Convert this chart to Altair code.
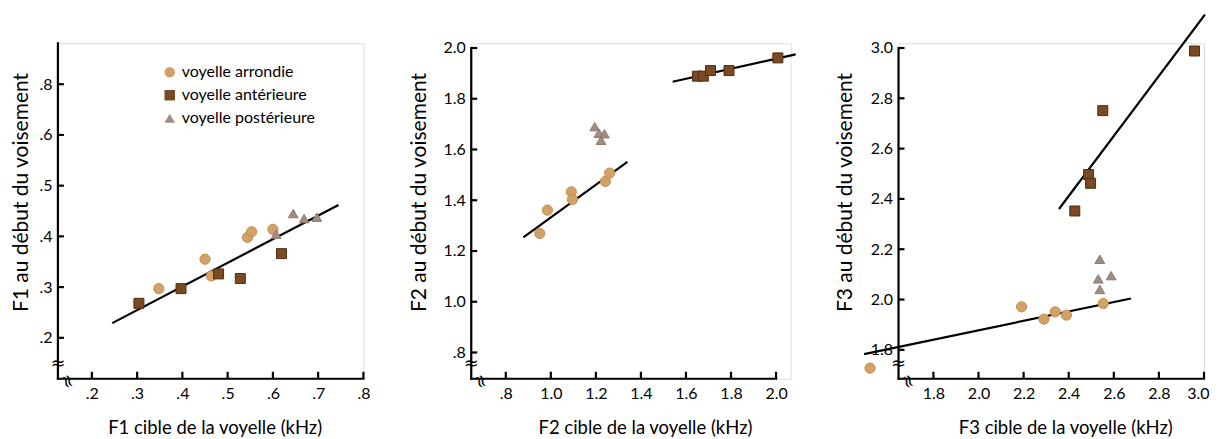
import json
import altair as alt
import pandas as pd

FONT = "Lato"
CATS = ["voyelle arrondie", "voyelle antérieure", "voyelle postérieure"]
FILLS = ["#D3A066", "#7A4A22", "#A08C82"]
STROKES = ["#C4904F", "#4E2E14", "#8C786E"]
SHAPES = ["circle", "square", "triangle-up"]
SIZES = [105, 95, 150]

# ---------------- Panel 1 (F1) ----------------
p1_round_x = [0.348, 0.450, 0.464, 0.544, 0.553, 0.600]
p1_round_y = [0.297, 0.355, 0.322, 0.398, 0.409, 0.414]
p1_front_x = [0.304, 0.397, 0.480, 0.528, 0.619]
p1_front_y = [0.268, 0.297, 0.326, 0.317, 0.366]
p1_back_x = [0.607, 0.645, 0.669, 0.697]
p1_back_y = [0.404, 0.445, 0.435, 0.438]
p1_fit_x = [0.245, 0.745]
p1_fit_y = [0.229, 0.462]
p1_xticks = [0.2, 0.3, 0.4, 0.5, 0.6, 0.7, 0.8]
p1_xlabels = [".2", ".3", ".4", ".5", ".6", ".7", ".8"]
p1_yticks = [0.2, 0.3, 0.4, 0.5, 0.6, 0.7]
p1_ylabels = [".2", ".3", ".4", ".5", ".6", ".8"]

# ---------------- Panel 2 (F2) ----------------
p2_round_x = [0.951, 0.985, 1.091, 1.096, 1.242, 1.261]
p2_round_y = [1.269, 1.361, 1.433, 1.403, 1.474, 1.507]
p2_front_x = [1.651, 1.677, 1.709, 1.791, 2.008]
p2_front_y = [1.889, 1.889, 1.911, 1.911, 1.961]
p2_back_x = [1.195, 1.214, 1.238, 1.223]
p2_back_y = [1.690, 1.664, 1.662, 1.636]
p2_fit_round_x = [0.878, 1.340]
p2_fit_round_y = [1.254, 1.551]
p2_fit_front_x = [1.541, 2.087]
p2_fit_front_y = [1.867, 1.975]
p2_xticks = [0.8, 1.0, 1.2, 1.4, 1.6, 1.8, 2.0]
p2_xlabels = [".8", "1.0", "1.2", "1.4", "1.6", "1.8", "2.0"]
p2_yticks = [0.8, 1.0, 1.2, 1.4, 1.6, 1.8, 2.0]
p2_ylabels = [".8", "1.0", "1.2", "1.4", "1.6", "1.8", "2.0"]

# ---------------- Panel 3 (F3) ----------------
p3_round_x = [1.519, 2.191, 2.290, 2.340, 2.390, 2.553]
p3_round_y = [1.727, 1.971, 1.922, 1.951, 1.938, 1.984]
p3_front_x = [2.427, 2.488, 2.497, 2.551, 2.958]
p3_front_y = [2.352, 2.497, 2.462, 2.751, 2.988]
p3_back_x = [2.538, 2.531, 2.588, 2.538]
p3_back_y = [2.160, 2.082, 2.095, 2.040]
p3_fit_round_x = [1.493, 2.676]
p3_fit_round_y = [1.783, 2.004]
p3_fit_front_x = [2.357, 3.004]
p3_fit_front_y = [2.360, 3.133]
p3_xticks = [1.8, 2.0, 2.2, 2.4, 2.6, 2.8, 3.0]
p3_xlabels = ["1.8", "2.0", "2.2", "2.4", "2.6", "2.8", "3.0"]
p3_yticks = [1.8, 2.0, 2.2, 2.4, 2.6, 2.8, 3.0]
p3_ylabels = ["1.8", "2.0", "2.2", "2.4", "2.6", "2.8", "3.0"]

BREAK = ["≈"]
H = 336


def label_expr(vals, labs):
    return f"{json.dumps(labs)}[indexof({json.dumps(vals)}, datum.value)]"


def panel(rx, ry, fx, fy, bx, by, fits, xdom, ydom, width, x_end, y_end,
          xticks, xlabels, yticks, ylabels, xtitle, ytitle, ytitle_x, xtitle_x,
          show_legend, flush_last=False):
    pts = pd.DataFrame({
        "x": rx + fx + bx,
        "y": ry + fy + by,
        "cat": [CATS[0]] * len(rx) + [CATS[1]] * len(fx) + [CATS[2]] * len(bx),
    })
    xs = alt.Scale(domain=xdom, nice=False, zero=False)
    ys = alt.Scale(domain=ydom, nice=False, zero=False)
    xaxis_kw = dict(values=xticks, labelExpr=label_expr(xticks, xlabels), domain=False,
                    ticks=False, tickSize=0, grid=False, labelFont=FONT, labelFontSize=16,
                    labelColor="black", labelPadding=7, labelOverlap=False,
                    title=xtitle, titleFont=FONT, titleFontSize=18.5, titleFontWeight="normal",
                    titleColor="black", titleX=xtitle_x, titleY=40, titleAlign="center")
    if flush_last:
        xaxis_kw.update(labelFlush=True, labelFlushOffset=5)
    else:
        xaxis_kw.update(labelFlush=False)
    xaxis = alt.Axis(**xaxis_kw)
    yaxis = alt.Axis(values=yticks, labelExpr=label_expr(yticks, ylabels), domain=False,
                     ticks=False, tickSize=0, grid=False, labelFont=FONT, labelFontSize=16,
                     labelColor="black", labelPadding=6, labelFlush=False, labelOverlap=False,
                     title=ytitle, titleFont=FONT, titleFontSize=21, titleFontWeight="normal",
                     titleColor="black", titleX=ytitle_x, titleY=149, titleAlign="center",
                     titleBaseline="alphabetic", titleAngle=270)
    if show_legend:
        leg = alt.Legend(title=None, orient="none", legendX=104, legendY=21, labelFont=FONT,
                         labelFontSize=16, labelColor="black", symbolSize=110, rowPadding=7,
                         labelOffset=4, padding=0, symbolStrokeWidth=1)
    else:
        leg = None
    X = alt.X("x:Q", scale=xs, axis=xaxis)
    Y = alt.Y("y:Q", scale=ys, axis=yaxis)
    layers = []
    fit_rows = []
    for gi, (lx, ly) in enumerate(fits):
        for a, b in zip(lx, ly):
            fit_rows.append({"x": a, "y": b, "g": gi})
    layers.append(
        alt.Chart(pd.DataFrame(fit_rows)).mark_line(color="black", strokeWidth=2.2, clip=False)
        .encode(x=X, y=Y, detail="g:N")
    )
    layers.append(
        alt.Chart(pts).mark_point(filled=True, opacity=1, strokeWidth=1, clip=False).encode(
            x=X, y=Y,
            color=alt.Color("cat:N", scale=alt.Scale(domain=CATS, range=FILLS), legend=leg),
            shape=alt.Shape("cat:N", scale=alt.Scale(domain=CATS, range=SHAPES), legend=leg),
            stroke=alt.Stroke("cat:N", scale=alt.Scale(domain=CATS, range=STROKES), legend=None),
            size=alt.Size("cat:N", scale=alt.Scale(domain=CATS, range=SIZES), legend=None),
        )
    )
    # axis lines
    layers.append(alt.Chart(pd.DataFrame({"y": [ydom[0]], "y2": [y_end]}))
                  .mark_rule(color="black", strokeWidth=2.2, strokeCap="square")
                  .encode(x=alt.value(0), y=Y, y2="y2:Q"))
    layers.append(alt.Chart(pd.DataFrame({"x": [xdom[0]], "x2": [x_end]}))
                  .mark_rule(color="black", strokeWidth=2.2, strokeCap="square")
                  .encode(y=alt.value(H), x=X, x2="x2:Q"))
    # inward ticks
    layers.append(alt.Chart(pd.DataFrame({"y": yticks})).mark_rule(color="black", strokeWidth=2.2)
                  .encode(y=Y, x=alt.value(0), x2=alt.value(6)))
    layers.append(alt.Chart(pd.DataFrame({"x": xticks})).mark_rule(color="black", strokeWidth=2.2)
                  .encode(x=X, y=alt.value(H), y2=alt.value(H - 7)))
    # axis break marks
    layers.append(alt.Chart(pd.DataFrame({"t": BREAK})).mark_text(font="DejaVu Serif", fontSize=18,
                  color="black", align="center", baseline="middle")
                  .encode(text="t:N", x=alt.value(0), y=alt.value(H - 15)))
    layers.append(alt.Chart(pd.DataFrame({"t": BREAK})).mark_text(font="DejaVu Serif", fontSize=18,
                  color="black", align="center", baseline="middle", angle=70)
                  .encode(text="t:N", x=alt.value(9), y=alt.value(H + 3)))
    return alt.layer(*layers).properties(width=width, height=H).resolve_scale(
        color="independent", shape="independent")


c1 = panel(p1_round_x, p1_round_y, p1_front_x, p1_front_y, p1_back_x, p1_back_y,
           [(p1_fit_x, p1_fit_y)], [0.125, 0.8], [0.1193, 0.7807], 306, 0.8, 0.7807,
           p1_xticks, p1_xlabels, p1_yticks, p1_ylabels,
           "F1 cible de la voyelle (kHz)", "F1 au début du voisement", -30, 157, True)
c2 = panel(p2_round_x, p2_round_y, p2_front_x, p2_front_y, p2_back_x, p2_back_y,
           [(p2_fit_round_x, p2_fit_round_y), (p2_fit_front_x, p2_fit_front_y)],
           [0.6466, 2.065], [0.6965, 2.0185], 320, 2.0, 2.0,
           p2_xticks, p2_xlabels, p2_yticks, p2_ylabels,
           "F2 cible de la voyelle (kHz)", "F2 au début du voisement", -46, 174, False)
c3 = panel(p3_round_x, p3_round_y, p3_front_x, p3_front_y, p3_back_x, p3_back_y,
           [(p3_fit_round_x, p3_fit_round_y), (p3_fit_front_x, p3_fit_front_y)],
           [1.6453, 3.0], [1.685, 3.0187], 306, 3.0, 3.0,
           p3_xticks, p3_xlabels, p3_yticks, p3_ylabels,
           "F3 cible de la voyelle (kHz)", "F3 au début du voisement", -47.5, 167, False,
           flush_last=True)

chart = alt.hconcat(c1, c2, c3, spacing=108, bounds="flush").resolve_scale(
    color="independent", shape="independent", stroke="independent", size="independent",
    x="independent", y="independent"
).resolve_legend(color="independent", shape="independent").properties(
    padding={"left": 2, "right": 0, "top": 1, "bottom": 0}
).configure_view(strokeWidth=0).configure(background="white")

chart.save("out.html", embed_options={"renderer": "svg", "actions": False})
